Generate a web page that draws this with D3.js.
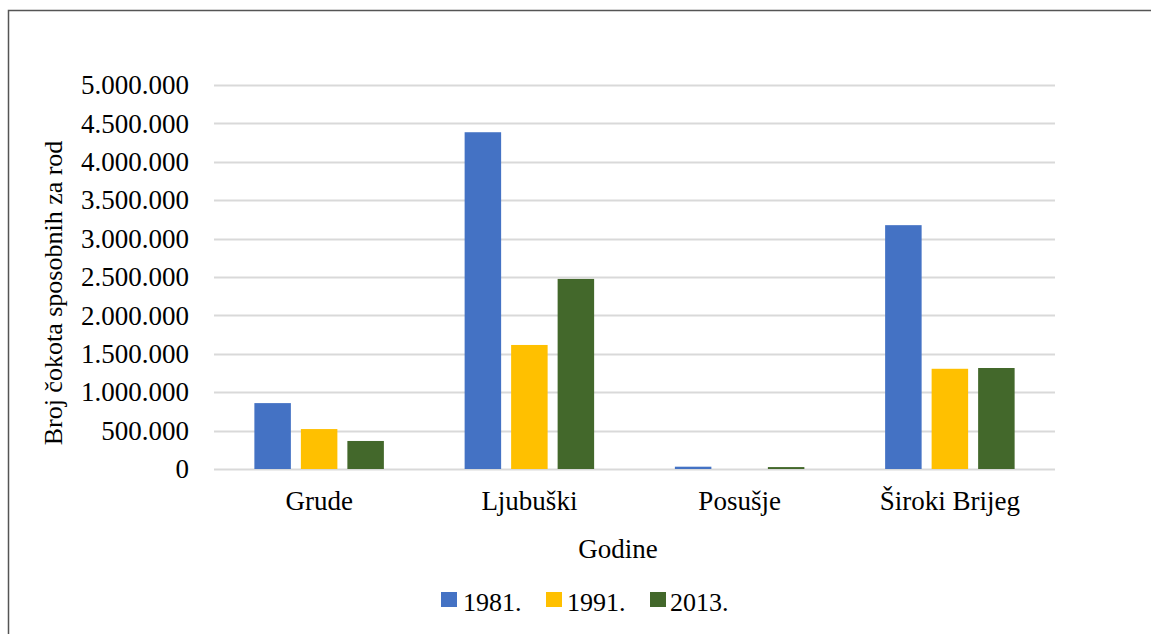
<!DOCTYPE html>
<html>
<head>
<meta charset="utf-8">
<script src="https://cdn.jsdelivr.net/npm/d3@7"></script>
<style>
  html, body { margin: 0; padding: 0; background: #fff; }
  svg { display: block; }
</style>
</head>
<body>
<svg id="chart" width="1151" height="634"></svg>
<script>
// Broj čokota sposobnih za rod po općinama i godinama popisa
const categories = ["Grude", "Ljubuški", "Posušje", "Široki Brijeg"];
const seriesNames = ["1981.", "1991.", "2013."];
const values1981 = [858000, 4385000, 30000, 3175000];
const values1991 = [520000, 1615000, 0, 1305000];
const values2013 = [365000, 2475000, 25000, 1315000];
const colors = ["#4472C4", "#FFC000", "#43682B"];
const yTicks = [0, 500000, 1000000, 1500000, 2000000, 2500000, 3000000, 3500000, 4000000, 4500000, 5000000];

const series = [values1981, values1991, values2013];
const FONT = "Liberation Serif";
const svg = d3.select("#chart");

// outer frame
svg.append("rect")
  .attr("x", 8.5).attr("y", 10.5)
  .attr("width", 1200).attr("height", 700)
  .attr("fill", "none").attr("stroke", "#555").attr("stroke-width", 1.5);

const plot = { left: 214, right: 1055, top: 85, bottom: 469 };

const x0 = d3.scaleBand().domain(categories).range([plot.left, plot.right]).paddingInner(0).paddingOuter(0);
const y = d3.scaleLinear().domain([0, 5000000]).range([plot.bottom, plot.top]);

const fmt = v => v === 0 ? "0" : d3.format(",")(v).replace(/,/g, ".");

// gridlines
svg.append("g").selectAll("line").data(yTicks).join("line")
  .attr("x1", plot.left).attr("x2", plot.right)
  .attr("y1", d => Math.round(y(d)) + 0.5).attr("y2", d => Math.round(y(d)) + 0.5)
  .attr("stroke", "#D9D9D9").attr("stroke-width", 2);

// y axis labels
const yAxis = d3.axisLeft(y).tickValues(yTicks).tickFormat(fmt).tickSize(0).tickPadding(0);
const gy = svg.append("g").attr("transform", `translate(189,0)`).call(yAxis);
gy.select(".domain").remove();
gy.selectAll("text").attr("font-family", FONT).attr("font-size", 27).attr("fill", "#000");

// bars
const barW = 36.5, gap = 10;
const inner = d3.scaleBand().domain(d3.range(seriesNames.length))
  .range([-(barW * 1.5 + gap), barW * 1.5 + gap]).paddingInner(gap / (barW + gap)).paddingOuter(0);

categories.forEach((cat, ci) => {
  const cx = x0(cat) + x0.bandwidth() / 2;
  series.forEach((vals, si) => {
    const v = vals[ci];
    if (v <= 0) return;
    svg.append("rect")
      .attr("x", cx + inner(si))
      .attr("width", inner.bandwidth())
      .attr("y", y(v))
      .attr("height", y(0) - y(v))
      .attr("fill", colors[si]);
  });
});

// x axis category labels
const xAxis = d3.axisBottom(x0).tickSize(0).tickPadding(0);
const gx = svg.append("g").attr("transform", `translate(0,${plot.bottom + 22})`).call(xAxis);
gx.select(".domain").remove();
gx.selectAll("text").attr("font-family", FONT).attr("font-size", 27).attr("fill", "#000");

// axis titles
svg.append("text").attr("x", 618).attr("y", 558)
  .attr("font-family", FONT).attr("text-anchor", "middle").attr("font-size", 27).attr("fill", "#000").text("Godine");
svg.append("text").attr("transform", `translate(62,293) rotate(-90)`)
  .attr("font-family", FONT).attr("text-anchor", "middle").attr("font-size", 26).attr("fill", "#000").text("Broj čokota sposobnih za rod");

// legend
const legendItems = [
  { name: seriesNames[0], x: 441, tx: 463 },
  { name: seriesNames[1], x: 546, tx: 567 },
  { name: seriesNames[2], x: 650, tx: 670 }
];
legendItems.forEach((it, i) => {
  svg.append("rect").attr("x", it.x).attr("y", 592).attr("width", 16).attr("height", 15).attr("fill", colors[i]);
  svg.append("text").attr("x", it.tx).attr("y", 611)
    .attr("font-family", FONT).attr("font-size", 26).attr("fill", "#000").text(it.name);
});
</script>
</body>
</html>
